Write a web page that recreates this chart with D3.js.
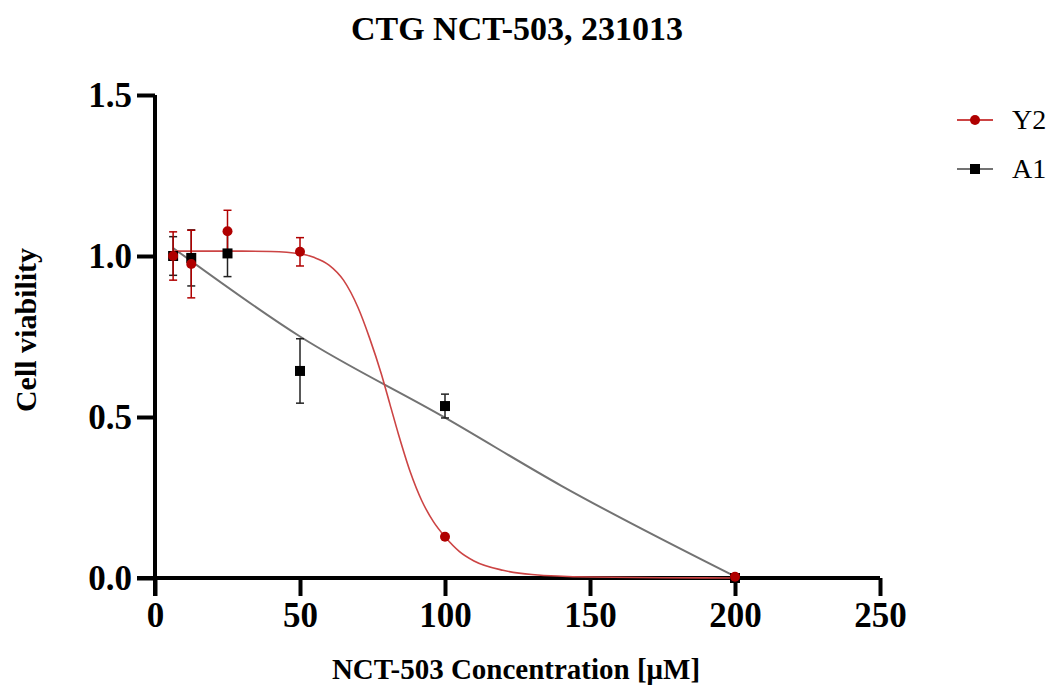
<!DOCTYPE html>
<html lang="en">
  <head>
    <meta charset="utf-8">
    <title>CTG NCT-503, 231013</title>
    <script type="text/javascript" src="https://d3js.org/d3.v7.min.js"></script>
    <style>
      body {
        margin: 0;
        background: #ffffff;
        font-family: 'Liberation Serif', 'Times New Roman', serif;
      }
      .axis path,
      .axis line {
        stroke: #000000;
        stroke-width: 4;
      }
      .axis text {
        font-family: 'Liberation Serif', serif;
        font-weight: bold;
        font-size: 35px;
        fill: #000000;
      }
    </style>
  </head>
  <body>
    <div id="chart"></div>
    <script type="text/javascript">

      // data
      var concentrations = [6.25, 12.5, 25, 50, 100, 200];
      var y2Mean = [1.0, 0.975, 1.077, 1.013, 0.128, 0.004];
      var y2Err  = [0.075, 0.105, 0.065, 0.044, 0.005, 0];
      var a1Mean = [1.0, 0.994, 1.008, 0.643, 0.534, 0.0];
      var a1Err  = [0.06, 0.087, 0.072, 0.10, 0.037, 0];

      // fitted curves
      var y2FitX = [6.25, 30, 40, 50, 55, 60, 65, 70, 74, 78, 81, 84, 88, 92, 96, 100, 105, 110, 120, 130, 150, 175, 200];
      var y2FitY = [1.015, 1.015, 1.014, 1.007, 0.995, 0.972, 0.925, 0.840, 0.745, 0.635, 0.540, 0.445, 0.33, 0.24, 0.175, 0.128, 0.082, 0.053, 0.024, 0.011, 0.003, 0.001, 0.0];
      var a1FitX = [6.25, 50, 100, 140, 200];
      var a1FitY = [1.025, 0.75, 0.498, 0.287, 0.005];

      var xTicks = [0, 50, 100, 150, 200, 250];
      var yTicks = [0, 0.5, 1.0, 1.5];
      var seriesNames = ['Y2', 'A1'];

      var w = 1050;
      var h = 689;
      var red = '#b00000';
      var redLine = '#cc4444';
      var greyLine = '#737373';

      var svg = d3.select('#chart')
        .append('svg')
          .attr('width', w)
          .attr('height', h);

      var x = d3.scaleLinear().domain([0, 250]).range([155, 880]);
      var y = d3.scaleLinear().domain([0, 1.5]).range([578, 95]);

      // axes
      svg.append('g')
        .attr('class', 'axis')
        .attr('transform', 'translate(0,' + y(0) + ')')
        .call(d3.axisBottom(x).tickValues(xTicks).tickSize(18).tickSizeOuter(0).tickPadding(6))
        .call(function(g) { g.select('.domain').attr('d', 'M' + (x(0) - 18) + ',0H' + x(250)); });

      svg.append('g')
        .attr('class', 'axis')
        .attr('transform', 'translate(' + x(0) + ',0)')
        .call(d3.axisLeft(y).tickValues(yTicks).tickSize(18).tickSizeOuter(0).tickPadding(5)
          .tickFormat(d3.format('.1f')))
        .call(function(g) { g.select('.domain').attr('d', 'M0,' + y(1.5) + 'V' + (y(0) + 18)); });

      svg.selectAll('.axis text').attr('font-family', null);

      // fit lines
      var line = d3.line()
        .x(function(d) { return x(d[0]); })
        .y(function(d) { return y(d[1]); })
        .curve(d3.curveMonotoneX);

      svg.append('path')
        .datum(d3.zip(a1FitX, a1FitY))
        .attr('d', line)
        .attr('fill', 'none')
        .attr('stroke', greyLine)
        .attr('stroke-width', 2);

      svg.append('path')
        .datum(d3.zip(y2FitX, y2FitY))
        .attr('d', line)
        .attr('fill', 'none')
        .attr('stroke', redLine)
        .attr('stroke-width', 1.6);

      // error bars
      function errorBars(means, errs, colour) {
        var g = svg.append('g')
          .attr('stroke', colour)
          .attr('stroke-width', 1.5)
          .attr('fill', 'none');
        concentrations.forEach(function(c, i) {
          if (errs[i] <= 0) return;
          var cx = x(c), top = y(means[i] + errs[i]), bot = y(means[i] - errs[i]);
          g.append('line').attr('x1', cx).attr('x2', cx).attr('y1', top).attr('y2', bot);
          g.append('line').attr('x1', cx - 4).attr('x2', cx + 4).attr('y1', top).attr('y2', top);
          g.append('line').attr('x1', cx - 4).attr('x2', cx + 4).attr('y1', bot).attr('y2', bot);
        });
      }
      errorBars(a1Mean, a1Err, '#222222');
      errorBars(y2Mean, y2Err, red);

      // markers
      svg.append('g').selectAll('rect')
        .data(d3.zip(concentrations, a1Mean))
        .enter()
        .append('rect')
          .attr('x', function(d) { return x(d[0]) - 5; })
          .attr('y', function(d) { return y(d[1]) - 5; })
          .attr('width', 10)
          .attr('height', 10)
          .attr('fill', '#000000');

      svg.append('g').selectAll('circle')
        .data(d3.zip(concentrations, y2Mean))
        .enter()
        .append('circle')
          .attr('cx', function(d) { return x(d[0]); })
          .attr('cy', function(d) { return y(d[1]); })
          .attr('r', 5)
          .attr('fill', red);

      // legend
      var legend = svg.append('g');
      seriesNames.forEach(function(name, i) {
        var ly = 120 + i * 49;
        legend.append('line')
          .attr('x1', 957).attr('x2', 993).attr('y1', ly).attr('y2', ly)
          .attr('stroke', i === 0 ? redLine : greyLine)
          .attr('stroke-width', 2);
        if (i === 0) {
          legend.append('circle').attr('cx', 975).attr('cy', ly).attr('r', 5).attr('fill', red);
        } else {
          legend.append('rect').attr('x', 970).attr('y', ly - 5).attr('width', 10).attr('height', 10).attr('fill', '#000000');
        }
        legend.append('text')
          .attr('x', 1012)
          .attr('y', ly + 9)
          .attr('font-size', '28px')
          .attr('fill', '#000000')
          .text(name);
      });

      // titles
      svg.append('text')
        .attr('x', 517)
        .attr('y', 40)
        .attr('text-anchor', 'middle')
        .attr('font-weight', 'bold')
        .attr('font-size', '34px')
        .text('CTG NCT-503, 231013');

      svg.append('text')
        .attr('x', 516)
        .attr('y', 679)
        .attr('text-anchor', 'middle')
        .attr('font-weight', 'bold')
        .attr('font-size', '29px')
        .text('NCT-503 Concentration [μM]');

      svg.append('text')
        .attr('transform', 'translate(36,330) rotate(-90)')
        .attr('text-anchor', 'middle')
        .attr('font-weight', 'bold')
        .attr('font-size', '30px')
        .text('Cell viability');

    </script>
  </body>
</html>
